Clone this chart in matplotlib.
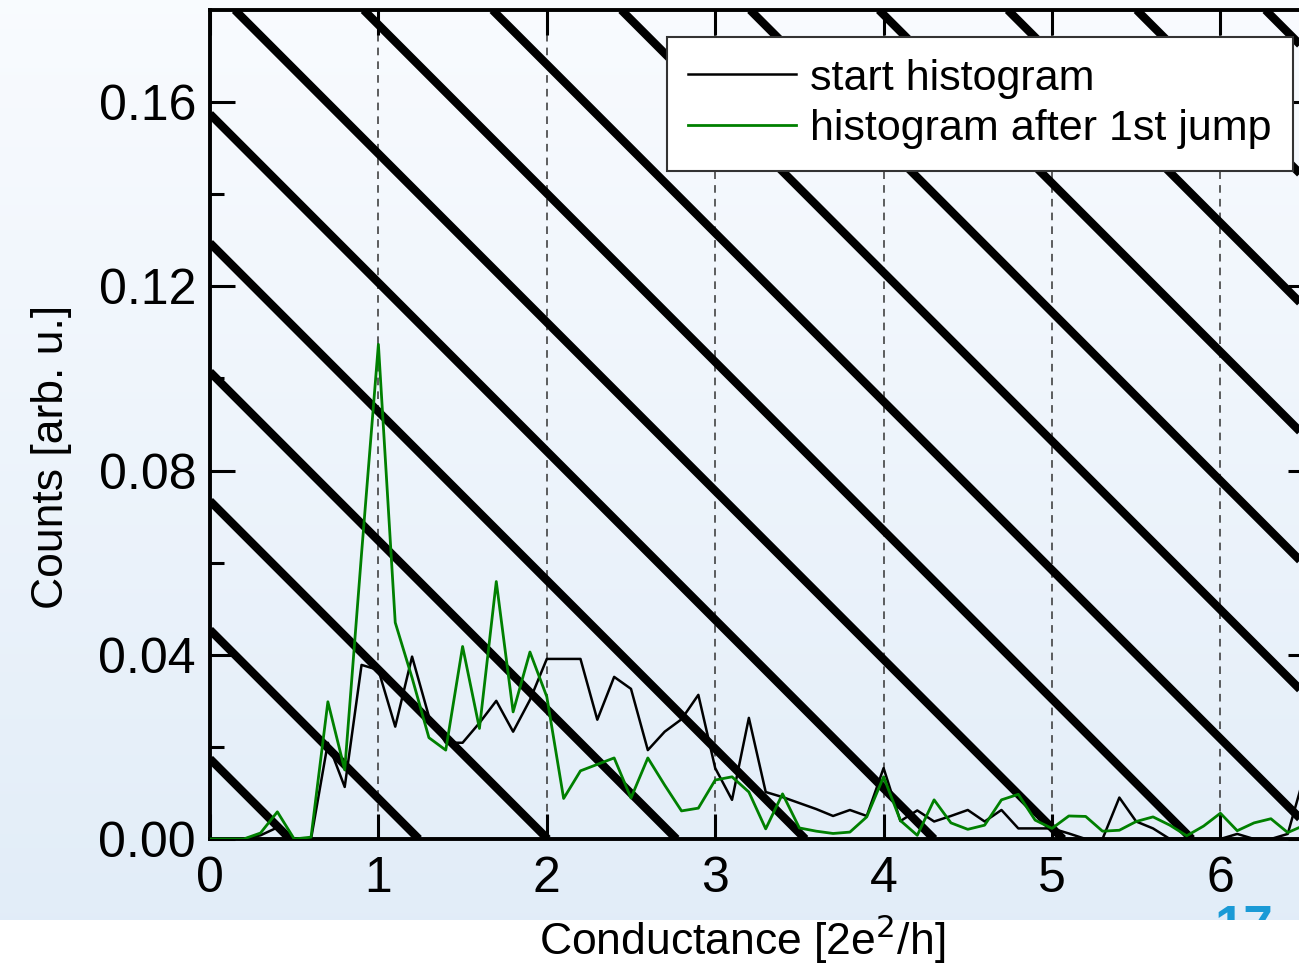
import numpy as np
import matplotlib.pyplot as plt

# histogram bins (conductance in units of 2e^2/h), 0.1 wide
bin_width = 0.1
start_counts = [
    0.0, 0.0, 0.0, 0.0008, 0.0025, 0.0, 0.0, 0.0209, 0.0113, 0.0378,
    0.0367, 0.0244, 0.0396, 0.0266, 0.0209, 0.0209, 0.0252, 0.0300, 0.0233, 0.0302,
    0.0391, 0.0391, 0.0391, 0.0259, 0.0352, 0.0326, 0.0193, 0.0233, 0.0260, 0.0313,
    0.0154, 0.0085, 0.0263, 0.0102, 0.0091, 0.0078, 0.0065, 0.0050, 0.0063, 0.0050,
    0.0154, 0.0039, 0.0062, 0.0038, 0.0050, 0.0063, 0.0038, 0.0063, 0.0023, 0.0023,
    0.0023, 0.0012, 0.0, 0.0, 0.0090, 0.0038, 0.0023, 0.0, 0.0, 0.0,
    0.0, 0.0011, 0.0, 0.0, 0.0011, 0.0140,
]
jump_counts = [
    0.0, 0.0, 0.0, 0.0013, 0.0059, 0.0, 0.0004, 0.0298, 0.0150, 0.0620,
    0.1074, 0.0470, 0.0350, 0.0220, 0.0193, 0.0418, 0.0240, 0.0559, 0.0276, 0.0406,
    0.0309, 0.0088, 0.0148, 0.0162, 0.0176, 0.0089, 0.0176, 0.0117, 0.0061, 0.0067,
    0.0128, 0.0135, 0.0102, 0.0022, 0.0098, 0.0024, 0.0017, 0.0012, 0.0015, 0.0048,
    0.0135, 0.0040, 0.0008, 0.0085, 0.0035, 0.0021, 0.0030, 0.0085, 0.0097, 0.0041,
    0.0023, 0.0050, 0.0049, 0.0017, 0.0019, 0.0038, 0.0048, 0.0030, 0.0007, 0.0028,
    0.0056, 0.0018, 0.0035, 0.0044, 0.0014, 0.0030,
]
conductance = np.arange(len(start_counts)) * bin_width

quantum_steps = [1, 2, 3, 4, 5, 6]
x_ticks = [0, 1, 2, 3, 4, 5, 6]
y_ticks = [0.00, 0.04, 0.08, 0.12, 0.16]
y_minor = [0.02, 0.06, 0.10, 0.14]

# decorative diagonal stripes behind the data
stripe_slope = -0.0366
stripe_first = 0.0174
stripe_gap = 0.028
stripe_count = 15

plt.rcParams["font.family"] = ["Liberation Sans", "DejaVu Sans"]

fig = plt.figure(figsize=(12.99, 9.68), dpi=100)

# slide background gradient
bg = fig.add_axes([0, 48 / 968, 1, 920 / 968], zorder=-10)
top_col = np.array([0.975, 0.985, 0.998])
bot_col = np.array([0.886, 0.929, 0.973])
t = np.linspace(0, 1, 256)[:, None]
grad = top_col + (bot_col - top_col) * t
bg.imshow(grad[:, None, :], aspect="auto", extent=[0, 1, 0, 1])
bg.text(0.958, 0.017, "17", color="#1a9ad6", fontsize=38, fontweight="bold",
        ha="center", va="top", transform=bg.transAxes, clip_on=True)
bg.set_xlim(0, 1)
bg.set_ylim(0, 1)
bg.axis("off")

ax = fig.add_axes([210 / 1299, 129 / 968, 1103 / 1299, 829 / 968])
ax.set_facecolor("none")

for k in range(stripe_count):
    ax.axline((0, stripe_first + k * stripe_gap), slope=stripe_slope,
              color="black", lw=6, zorder=1, solid_capstyle="butt")

for q in quantum_steps:
    ax.axvline(q, color="#333333", lw=1.1, ls=(0, (5, 4)), zorder=0.5)

ax.plot(conductance, start_counts, color="black", lw=1.8, zorder=3,
        label="start histogram")
ax.plot(conductance, jump_counts, color="#008000", lw=2.0, zorder=4,
        label="histogram after 1st jump")

ax.set_xlim(0, 6.55)
ax.set_ylim(0, 0.18)
ax.set_xticks(x_ticks)
ax.set_yticks(y_ticks)
ax.set_yticks(y_minor, minor=True)
ax.set_yticklabels([f"{v:.2f}" for v in y_ticks])
ax.tick_params(axis="both", which="major", direction="in", length=18, width=2.2,
               labelsize=36, top=True, right=True, pad=10)
ax.tick_params(axis="y", which="minor", direction="in", length=10, width=2.2,
               right=True)
ax.tick_params(axis="x", pad=12)
for side in ["left", "bottom", "top", "right"]:
    ax.spines[side].set_linewidth(2.8)

ax.set_xlabel("Conductance [2e$^2$/h]", fontsize=32)
ax.set_ylabel("Counts [arb. u.]", fontsize=32)
ax.xaxis.set_label_coords(0.482, -0.088)
ax.yaxis.set_label_coords(-0.125, 0.461)

leg = ax.legend(loc="upper right", bbox_to_anchor=(1293 / 1299, 1 - 37 / 968),
                bbox_transform=fig.transFigure, frameon=True, fancybox=False,
                fontsize=31, handlelength=2.5, handletextpad=0.33,
                borderpad=0.5, labelspacing=0.25, borderaxespad=0,
                framealpha=1.0)
leg.get_frame().set_edgecolor("#333333")
leg.get_frame().set_linewidth(1.5)
leg.set_zorder(10)

fig.savefig("out.png", dpi=100)
